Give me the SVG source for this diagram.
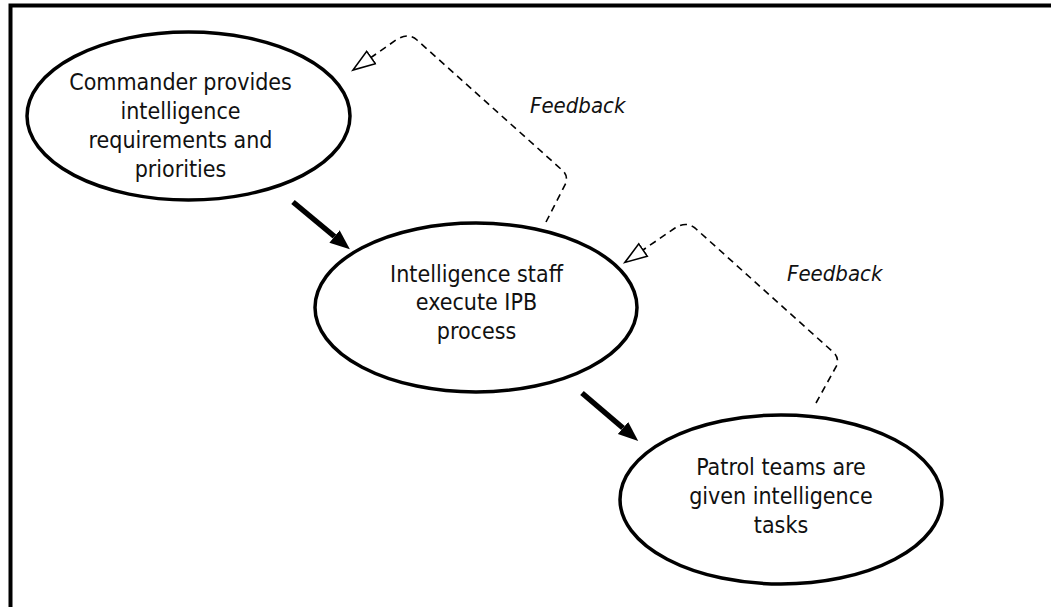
<svg xmlns="http://www.w3.org/2000/svg" width="1051" height="607" viewBox="0 0 1051 607">
<style>
  .node ellipse { fill: #fff; stroke: #000; stroke-width: 3.5; }
  .node text { font-family: "DejaVu Sans Condensed", "DejaVu Sans", Tahoma, sans-serif; font-stretch: condensed; font-size: 23px; fill: #111; text-anchor: middle; }
  .fb { font-family: "DejaVu Sans Condensed", "DejaVu Sans", Tahoma, sans-serif; font-stretch: condensed; font-size: 22px; font-style: italic; fill: #111; }
  .main { fill: none; stroke: #000; stroke-width: 5.5; }
  .feedback { fill: none; stroke: #000; stroke-width: 1.6; stroke-dasharray: 7 5; }
</style>
<defs>
  <marker id="solidHead" markerUnits="userSpaceOnUse" markerWidth="24" markerHeight="20" refX="0" refY="10" orient="auto" viewBox="0 0 24 20">
    <path d="M0,2 L20,10 L0,18 Z" fill="#000"/>
  </marker>
  <marker id="openHead" markerUnits="userSpaceOnUse" markerWidth="26" markerHeight="20" refX="1" refY="10" orient="auto" viewBox="0 0 26 20">
    <path d="M1,2.5 L23,10 L1,17.5 Z" fill="#fff" stroke="#000" stroke-width="1.6"/>
  </marker>
</defs>
<rect x="10.5" y="5.5" width="1100" height="700" fill="#fff" stroke="#000" stroke-width="4"/>
<g id="connectors">
  <path class="main" d="M293,202 L334.5,236.5" marker-end="url(#solidHead)"/>
  <path class="main" d="M582,393 L623,428" marker-end="url(#solidHead)"/>
  <path class="feedback" d="M546,222 L566,183 Q568,175 562,170 L417,40 Q408,32 396,40 L371,57.5" marker-end="url(#openHead)"/>
  <path class="feedback" d="M816,403 L837,365 Q839,357 833,352 L695,228 Q686,221 675,228 L643,250" marker-end="url(#openHead)"/>
  <text class="fb" x="530" y="113">Feedback</text>
  <text class="fb" x="787" y="281">Feedback</text>
</g>
<g id="node-commander" class="node">
  <ellipse cx="188.5" cy="116" rx="161.5" ry="84"/>
  <text x="180.5" y="90">Commander provides</text>
  <text x="180.5" y="119">intelligence</text>
  <text x="180.5" y="148">requirements and</text>
  <text x="180.5" y="177">priorities</text>
</g>
<g id="node-staff" class="node">
  <ellipse cx="476" cy="307.5" rx="161" ry="84.5"/>
  <text x="476.5" y="282">Intelligence staff</text>
  <text x="476.5" y="310">execute IPB</text>
  <text x="476.5" y="339">process</text>
</g>
<g id="node-patrol" class="node">
  <ellipse cx="781" cy="499.5" rx="161" ry="84.5"/>
  <text x="781" y="475">Patrol teams are</text>
  <text x="781" y="504">given intelligence</text>
  <text x="781" y="533">tasks</text>
</g>
</svg>
